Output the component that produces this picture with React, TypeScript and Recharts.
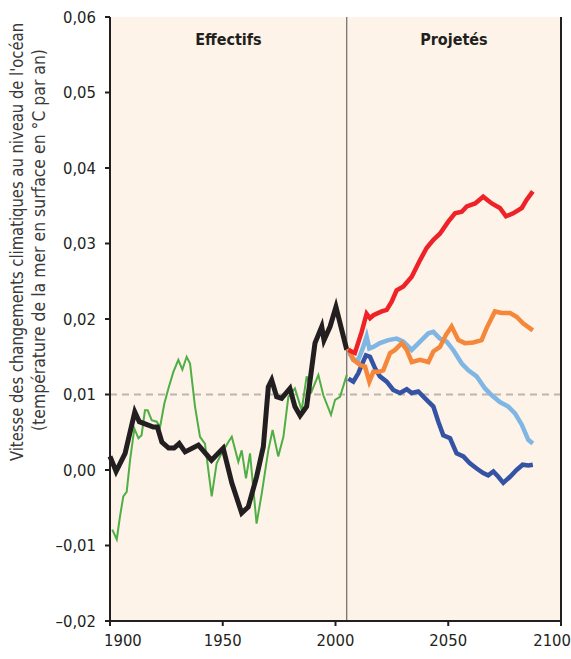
import React from 'react';
import { LineChart, Line, XAxis, YAxis, ReferenceArea, ReferenceLine } from 'recharts';

// ---- Data ----
const xTicks = [1900, 1950, 2000, 2050, 2100];
const yTicks = [-0.02, -0.01, 0, 0.01, 0.02, 0.03, 0.04, 0.05, 0.06];
const periodLabels = ['Effectifs', 'Projetés'];
const yLabelLines = [
  "Vitesse des changements climatiques au niveau de l'océan",
  '(température de la mer en surface en °C par an)',
];

// Observed annual (green)
const greenYears = [1901, 1903, 1904.4, 1905.9, 1907.4, 1908.9, 1910.8, 1912.6, 1914, 1915.5, 1916.7, 1918.5, 1920.7, 1922.2, 1924.1, 1925.9, 1928.1, 1930.3, 1932.1, 1934, 1935.5, 1937.7, 1939.9, 1942.1, 1945.1, 1947.3, 1949.5, 1952.5, 1954, 1956.9, 1958.4, 1960.3, 1962.1, 1965, 1967.3, 1970.2, 1972.1, 1974.6, 1976.9, 1979.1, 1982, 1985, 1987.2, 1989.4, 1992.4, 1994.6, 1998, 1999.8, 2002, 2005];
const greenValues = [-0.0079, -0.0092, -0.0062, -0.0035, -0.0029, 0.0013, 0.0055, 0.0042, 0.0046, 0.0079, 0.0079, 0.0066, 0.0064, 0.0057, 0.0088, 0.0108, 0.013, 0.0146, 0.0133, 0.015, 0.0141, 0.0084, 0.0044, 0.0035, -0.0035, 0.0009, 0.0022, 0.0037, 0.0044, 0.0011, 0.0026, -0.0011, 0.0022, -0.0071, -0.0031, 0.0026, 0.0053, 0.0018, 0.0044, 0.0097, 0.0108, 0.0079, 0.0124, 0.0104, 0.0126, 0.0099, 0.0073, 0.0093, 0.0097, 0.0126];

// Observed smoothed (black)
const blackYears = [1900, 1902.7, 1906.7, 1911, 1913, 1919.2, 1921, 1923, 1926, 1928.4, 1930.7, 1933.3, 1939.2, 1945, 1950.2, 1954, 1958.4, 1961.3, 1965, 1968, 1970.2, 1971.7, 1973.9, 1976.1, 1979.8, 1982, 1984.3, 1987.2, 1990.9, 1993.9, 1994.9, 1997.6, 2000.2, 2005];
const blackValues = [0.0018, -0.0002, 0.0022, 0.0077, 0.0064, 0.0057, 0.0057, 0.0037, 0.0029, 0.0029, 0.0035, 0.0024, 0.0033, 0.0013, 0.0029, -0.0017, -0.0057, -0.0049, -0.0009, 0.0031, 0.011, 0.0119, 0.0097, 0.0095, 0.0108, 0.0084, 0.0072, 0.0084, 0.0168, 0.019, 0.0172, 0.019, 0.0216, 0.0159];

// Projection (red)
const redYears = [2005.7, 2008.6, 2011.6, 2013.8, 2015.3, 2016.8, 2020.5, 2022.7, 2024.9, 2027.1, 2030.1, 2033.8, 2037.5, 2040.4, 2043.4, 2046.3, 2050, 2053, 2056, 2058.2, 2061.9, 2065.5, 2069.3, 2072.9, 2075.6, 2078.8, 2082.6, 2084.8, 2087.5];
const redValues = [0.0159, 0.0155, 0.0183, 0.0207, 0.0201, 0.0205, 0.021, 0.0212, 0.0223, 0.0238, 0.0243, 0.0256, 0.0278, 0.0294, 0.0305, 0.0313, 0.0329, 0.034, 0.0342, 0.0349, 0.0353, 0.0362, 0.0353, 0.0347, 0.0336, 0.034, 0.0347, 0.0358, 0.0369];

// Projection (orange)
const orangeYears = [2005.7, 2007.9, 2010.9, 2013.1, 2015, 2016.8, 2019.4, 2021.2, 2024.2, 2026.4, 2029.4, 2031.6, 2033.8, 2037.5, 2041.2, 2043.4, 2046.3, 2049, 2051.5, 2054.5, 2057.4, 2061.1, 2064.8, 2067, 2070.7, 2073.7, 2077.4, 2080.3, 2083.3, 2087.5];
const orangeValues = [0.0161, 0.0146, 0.0139, 0.0137, 0.0117, 0.013, 0.013, 0.0132, 0.0155, 0.0159, 0.0168, 0.0159, 0.0143, 0.0146, 0.0143, 0.0157, 0.0163, 0.0179, 0.019, 0.0172, 0.0168, 0.0169, 0.0172, 0.0188, 0.021, 0.0208, 0.0208, 0.0203, 0.0194, 0.0185];

// Projection (light blue)
const lightBlueYears = [2005.7, 2007.9, 2010.1, 2012.3, 2013.8, 2015, 2016.8, 2019.7, 2023.4, 2027.1, 2030.1, 2033.8, 2037.5, 2041.2, 2043.4, 2046.3, 2049.3, 2052.2, 2056, 2058.9, 2062.6, 2066.3, 2069.3, 2072.9, 2076.6, 2079.6, 2082.6, 2085.5, 2087.5];
const lightBlueValues = [0.0157, 0.0146, 0.0146, 0.0163, 0.0177, 0.0161, 0.0163, 0.0168, 0.0172, 0.0174, 0.017, 0.0159, 0.017, 0.0181, 0.0183, 0.0174, 0.017, 0.0159, 0.0141, 0.0132, 0.0124, 0.0108, 0.0099, 0.009, 0.0084, 0.0075, 0.006, 0.004, 0.0035];

// Projection (dark blue)
const darkBlueYears = [2005.7, 2007.9, 2010.1, 2011.6, 2013.5, 2015.3, 2017.5, 2019.7, 2022.7, 2025.6, 2028.6, 2031.6, 2033.8, 2036.7, 2040.4, 2043.4, 2045.6, 2047.8, 2050.8, 2053.7, 2056.7, 2059.6, 2062.6, 2065.5, 2067.7, 2070, 2072.2, 2074.4, 2077.4, 2080.3, 2083, 2085.5, 2087.5];
const darkBlueValues = [0.0121, 0.0117, 0.0128, 0.0139, 0.0152, 0.015, 0.0135, 0.0124, 0.0117, 0.0106, 0.0102, 0.0107, 0.0102, 0.0104, 0.0093, 0.0084, 0.0064, 0.0046, 0.0042, 0.0022, 0.0018, 0.0009, 0.0002, -0.0004, -0.0007, -0.0002, -0.0009, -0.0017, -0.0009, 0, 0.0007, 0.0006, 0.0007];

const toSeries = (years: number[], values: number[]) =>
  years.map((year, i) => ({ year, v: values[i] }));

const green = toSeries(greenYears, greenValues);
const black = toSeries(blackYears, blackValues);
const red = toSeries(redYears, redValues);
const orange = toSeries(orangeYears, orangeValues);
const lightBlue = toSeries(lightBlueYears, lightBlueValues);
const darkBlue = toSeries(darkBlueYears, darkBlueValues);

const FONT = "'Liberation Sans Narrow', 'DejaVu Sans Condensed', 'Open Sans', sans-serif";
const AXIS = '#231f20';
const TICK_FS = 16.5;

const fmtY = (v: number) => {
  const s = Math.abs(v).toFixed(2).replace('.', ',');
  return v < -1e-9 ? '\u2013' + s : s;
};

// x tick: the end labels are kept inside the figure, as in the original
const XTick = (props: any) => {
  const { x, y, payload, index } = props;
  const last = xTicks.length - 1;
  const anchor = index === 0 ? 'start' : index === last ? 'end' : 'middle';
  const dx = index === 0 ? -6 : index === last ? 16 : 0;
  return (
    <text
      x={x + dx}
      y={y + 8}
      dy="0.71em"
      textAnchor={anchor}
      fontFamily={FONT}
      fontSize={TICK_FS}
      fill="#231f20"
    >
      {payload.value}
    </text>
  );
};

const YLabel = () => (
  <g>
    <text
      transform="translate(17, 242) rotate(-90)"
      textAnchor="middle"
      dominantBaseline="central"
      fontFamily={FONT}
      fontSize={17}
      fill="#3a3a3a"
      textLength={438}
      lengthAdjust="spacingAndGlyphs"
    >
      {yLabelLines[0]}
    </text>
    <text
      transform="translate(39, 240) rotate(-90)"
      textAnchor="middle"
      dominantBaseline="central"
      fontFamily={FONT}
      fontSize={17}
      fill="#3a3a3a"
      textLength={382}
      lengthAdjust="spacingAndGlyphs"
    >
      {yLabelLines[1]}
    </text>
  </g>
);

export default function App() {
  return (
    <div style={{ position: 'absolute', left: 0, top: 0, background: '#fff' }}>
      <LineChart
        width={571}
        height={659}
        margin={{ top: 17, right: 0, bottom: 0, left: 0 }}
      >
        <XAxis
          dataKey="year"
          type="number"
          domain={[1900, 2100]}
          ticks={xTicks}
          allowDuplicatedCategory={false}
          height={38}
          stroke={AXIS}
          strokeWidth={2}
          tickSize={5}
          tickMargin={0}
          tick={(p: any) => <XTick {...p} />}
          tickLine={{ stroke: AXIS, strokeWidth: 2 }}
          axisLine={{ stroke: AXIS, strokeWidth: 2 }}
        />
        <YAxis
          yAxisId="l"
          type="number"
          domain={[-0.02, 0.06]}
          ticks={yTicks}
          width={110}
          tickSize={5}
          tickMargin={9}
          tickFormatter={fmtY}
          tick={{ fontFamily: FONT, fontSize: TICK_FS, fill: '#231f20' }}
          tickLine={{ stroke: AXIS, strokeWidth: 2 }}
          axisLine={{ stroke: AXIS, strokeWidth: 2 }}
          label={{ content: () => <YLabel /> }}
        />
        <YAxis
          yAxisId="r"
          orientation="right"
          type="number"
          domain={[-0.02, 0.06]}
          ticks={yTicks}
          width={10}
          tickSize={5}
          tickFormatter={() => ''}
          tickLine={{ stroke: AXIS, strokeWidth: 2 }}
          axisLine={{ stroke: AXIS, strokeWidth: 2 }}
        />
        <ReferenceArea
          yAxisId="l"
          x1={1900}
          x2={2005}
          y1={-0.02}
          y2={0.06}
          fill="#fdf3e8"
          fillOpacity={1}
          stroke="none"
          label={{ value: periodLabels[0], position: 'insideTop', offset: 17, fontFamily: FONT, fontSize: 16, fontWeight: 700, fill: '#231f20' }}
        />
        <ReferenceArea
          yAxisId="l"
          x1={2005}
          x2={2100}
          y1={-0.02}
          y2={0.06}
          fill="#fdf3e8"
          fillOpacity={1}
          stroke="none"
          label={{ value: periodLabels[1], position: 'insideTop', offset: 17, fontFamily: FONT, fontSize: 16, fontWeight: 700, fill: '#231f20' }}
        />
        <ReferenceLine yAxisId="l" y={0.01} stroke="#bdb6ae" strokeWidth={2} strokeDasharray="7 5" />
        <ReferenceLine yAxisId="l" x={2005} stroke="#4d4d4d" strokeWidth={1} />
        <Line yAxisId="l" data={green} dataKey="v" type="linear" stroke="#4fae44" strokeWidth={2} dot={false} isAnimationActive={false} />
        <Line yAxisId="l" data={black} dataKey="v" type="linear" stroke="#231f20" strokeWidth={5} dot={false} isAnimationActive={false} />
        <Line yAxisId="l" data={lightBlue} dataKey="v" type="linear" stroke="#7fb6e4" strokeWidth={4.5} dot={false} isAnimationActive={false} />
        <Line yAxisId="l" data={darkBlue} dataKey="v" type="linear" stroke="#3553a4" strokeWidth={4.5} dot={false} isAnimationActive={false} />
        <Line yAxisId="l" data={orange} dataKey="v" type="linear" stroke="#f5873a" strokeWidth={4.5} dot={false} isAnimationActive={false} />
        <Line yAxisId="l" data={red} dataKey="v" type="linear" stroke="#ee2227" strokeWidth={4.5} dot={false} isAnimationActive={false} />
      </LineChart>
    </div>
  );
}
